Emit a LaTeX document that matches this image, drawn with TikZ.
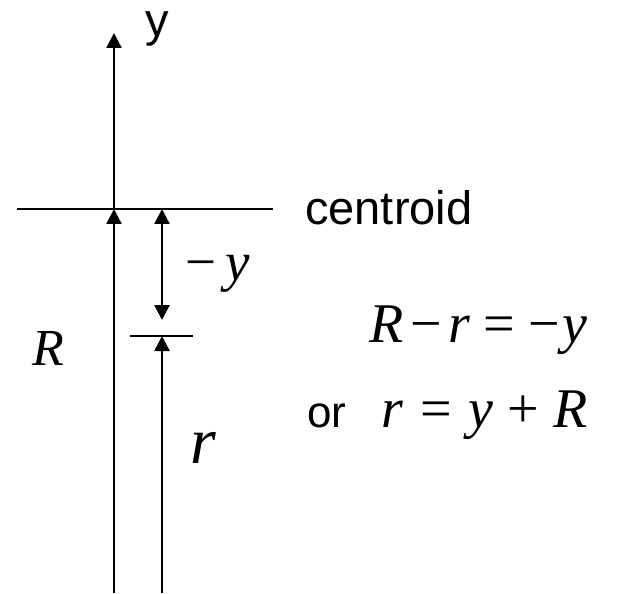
\documentclass[tikz,border=0pt]{standalone}
\usepackage{fontspec}
\setmainfont{Liberation Serif}
\newfontfamily\arial{Liberation Sans}
\usetikzlibrary{arrows.meta}
\tikzset{
  ln/.style={line width=2.5pt, black},
  tip/.style={-{Triangle[width=15pt,length=15pt]}},
  both/.style={{Triangle[width=15pt,length=15pt]}-{Triangle[width=15pt,length=15pt]}},
  lbl/.style={inner sep=0pt, anchor=base west},
}
\newcommand{\gap}[1]{\hspace{#1pt}}
\begin{document}
\begin{tikzpicture}[x=1pt,y=-1pt]
\useasboundingbox (0,0) rectangle (617,593);
% coordinates
\coordinate (ytop) at (114,33);
\coordinate (origin) at (114,209);
\coordinate (Lbot) at (114,593);
\coordinate (hl) at (17,209);
\coordinate (hr) at (273,209);
\coordinate (dtop) at (162,209);
\coordinate (dbot) at (162,320);
\coordinate (sl) at (130,336);
\coordinate (sr) at (193,336);
\coordinate (rtop) at (162,336);
\coordinate (rbot) at (162,593);
% lines
\draw[ln] (hl) -- (hr);
\draw[ln,tip] (origin) -- (ytop);
\draw[ln,tip] (Lbot) -- (origin);
\draw[ln,both] (dtop) -- (dbot);
\draw[ln] (sl) -- (sr);
\draw[ln,tip] (rbot) -- (rtop);
% labels
\node[inner sep=0pt, anchor=base] (ylab) at (157,37) {\arial\fontsize{47}{50}\selectfont y};
\node[lbl] (cen) at (305,225) {\arial\fontsize{47}{50}\selectfont centroid};
\node[lbl] (my) at (185,280) {\fontsize{55}{60}\selectfont −\,\textit{y}};
\node[lbl] (bigR) at (32,365) {\fontsize{52}{56}\selectfont \textit{R}};
\node[lbl] (smallr) at (190,463) {\fontsize{66}{70}\selectfont \textit{r}};
\node[lbl] (eq1) at (369,342) {\fontsize{56}{60}\selectfont \textit{R}\gap{7}−\gap{7}\textit{r}\gap{13}=\gap{13}−\gap{2}\textit{y}};
\node[lbl] (or) at (307,427) {\arial\fontsize{44}{48}\selectfont or};
\node[lbl] (eq2) at (381,427) {\fontsize{56}{60}\selectfont \textit{r}\gap{17}=\gap{17}\textit{y}\gap{14}+\gap{14}\textit{R}};
\end{tikzpicture}
\end{document}
